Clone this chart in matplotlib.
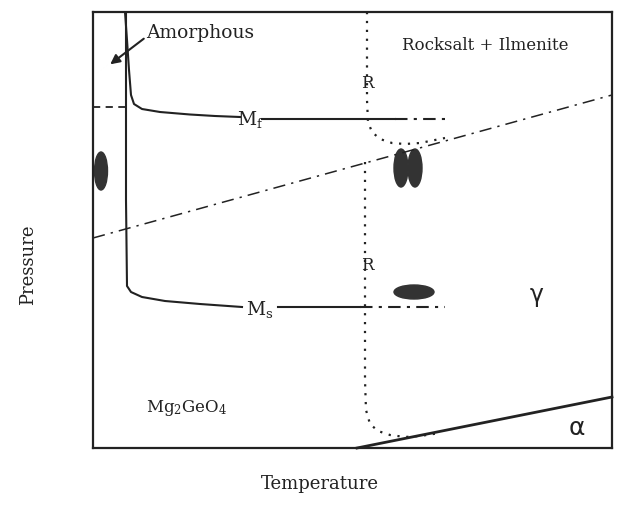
#!/usr/bin/env python3
import matplotlib
matplotlib.use("Agg")
import matplotlib.pyplot as plt
from matplotlib.patches import Ellipse

# schematic coordinates (temperature to the right, pressure upward shown inverted as image rows)
box_x = (93, 612)
box_y = (448, 12)

# Mf curve (solid to label, solid after, dash-dot end)
mf_x = [125, 127, 129, 131, 134, 142, 160, 190, 215, 240]
mf_y = [12, 40, 70, 95, 104, 109, 112, 114.5, 116, 117]
mf_tail_x = [262, 395]
mf_tail_y = [119, 119]
mf_dash_x = [395, 445]
mf_dash_y = [119, 119]

# Ms curve
ms_x = [126, 126, 127, 131, 142, 165, 200, 242]
ms_y = [12, 200, 286, 292, 297, 301, 304, 307]
ms_tail_x = [278, 360]
ms_tail_y = [307, 307]
ms_dash_x = [360, 445]
ms_dash_y = [307, 307]

# short dashed line on the left
amor_x = [93, 125]
amor_y = [107, 107]

# dash-dot boundary
dd_x = [93, 612]
dd_y = [238, 95]

# dotted R boundaries
r1_x = [367, 367, 368, 372, 380, 392, 405, 420, 445]
r1_y = [12, 100, 122, 132, 139, 143, 144, 143, 138]
r2_x = [365, 365, 366, 370, 378, 390, 405, 420, 440]
r2_y = [162, 380, 410, 424, 431, 435, 437, 436, 433]

# alpha boundary
alpha_x = [357, 612]
alpha_y = [448, 397]

# samples (center x, center y, width, height)
ell_x = [101, 401, 415, 414]
ell_y = [171, 168, 168, 292]
ell_w = [13, 14, 14, 40]
ell_h = [38, 38, 38, 14]

plt.rcParams["mathtext.fontset"] = "dejavuserif"

fig = plt.figure(figsize=(6.18, 5.2), dpi=100)
ax = fig.add_axes([box_x[0] / 618, 1 - box_y[0] / 520,
                   (box_x[1] - box_x[0]) / 618, (box_y[0] - box_y[1]) / 520])
ax.set_xlim(*box_x)
ax.set_ylim(*box_y)
ax.set_xticks([])
ax.set_yticks([])
for s in ax.spines.values():
    s.set_linewidth(1.6)
    s.set_color("#222222")

c = "#222222"
lw = 1.5
ax.plot(mf_x, mf_y, color=c, lw=lw)
ax.plot(mf_tail_x, mf_tail_y, color=c, lw=lw)
ax.plot(mf_dash_x, mf_dash_y, color=c, lw=lw, ls=(0, (6, 3, 1.5, 3)))
ax.plot(ms_x, ms_y, color=c, lw=lw)
ax.plot(ms_tail_x, ms_tail_y, color=c, lw=lw)
ax.plot(ms_dash_x, ms_dash_y, color=c, lw=lw, ls=(0, (6, 3, 1.5, 3)))
ax.plot(amor_x, amor_y, color=c, lw=1.3, ls=(0, (4, 3)))
ax.plot(dd_x, dd_y, color=c, lw=1.1, ls=(0, (8, 4, 1.5, 4)))
ax.plot(r1_x, r1_y, color=c, lw=1.6, ls=(0, (1, 3)))
ax.plot(r2_x, r2_y, color=c, lw=1.6, ls=(0, (1, 3)))
ax.plot(alpha_x, alpha_y, color=c, lw=2.0, clip_on=False)

for x, y, w, h in zip(ell_x, ell_y, ell_w, ell_h):
    ax.add_patch(Ellipse((x, y), w, h, color="#333333"))

serif = ["DejaVu Serif"]
fs = 12
ax.text(146, 33, "Amorphous", fontsize=13.5, family=serif, ha="left", va="center", color=c)
ax.annotate("", xy=(108, 66), xytext=(146, 37),
            arrowprops=dict(arrowstyle="-|>", color=c, lw=1.5, mutation_scale=14))
ax.text(485, 45, "Rocksalt + Ilmenite", fontsize=fs, family=serif, ha="center", va="center", color=c)
ax.text(251, 119, r"$\mathregular{M_f}$", fontsize=13.5, family=serif, ha="center", va="center", color=c)
ax.text(260, 309, r"$\mathregular{M_s}$", fontsize=13.5, family=serif, ha="center", va="center", color=c)
ax.text(367, 84, "R", fontsize=fs, family=serif, ha="center", va="center", color=c)
ax.text(367, 266, "R", fontsize=fs, family=serif, ha="center", va="center", color=c)
ax.text(537, 295, "γ", fontsize=17, family=["DejaVu Sans"], ha="center", va="center", color=c)
ax.text(577, 428, "α", fontsize=18, family=["DejaVu Sans"], ha="center", va="center", color=c)
ax.text(146, 408, r"$\mathregular{Mg_2GeO_4}$", fontsize=fs, family=serif, ha="left", va="center", color=c)
ax.text(28, 265, "Pressure", fontsize=13, family=serif, rotation=90, ha="center", va="center",
        color=c, clip_on=False)
ax.text(320, 484, "Temperature", fontsize=13, family=serif, ha="center", va="center",
        color=c, clip_on=False)

fig.savefig("out.png", dpi=100)
plt.close(fig)
